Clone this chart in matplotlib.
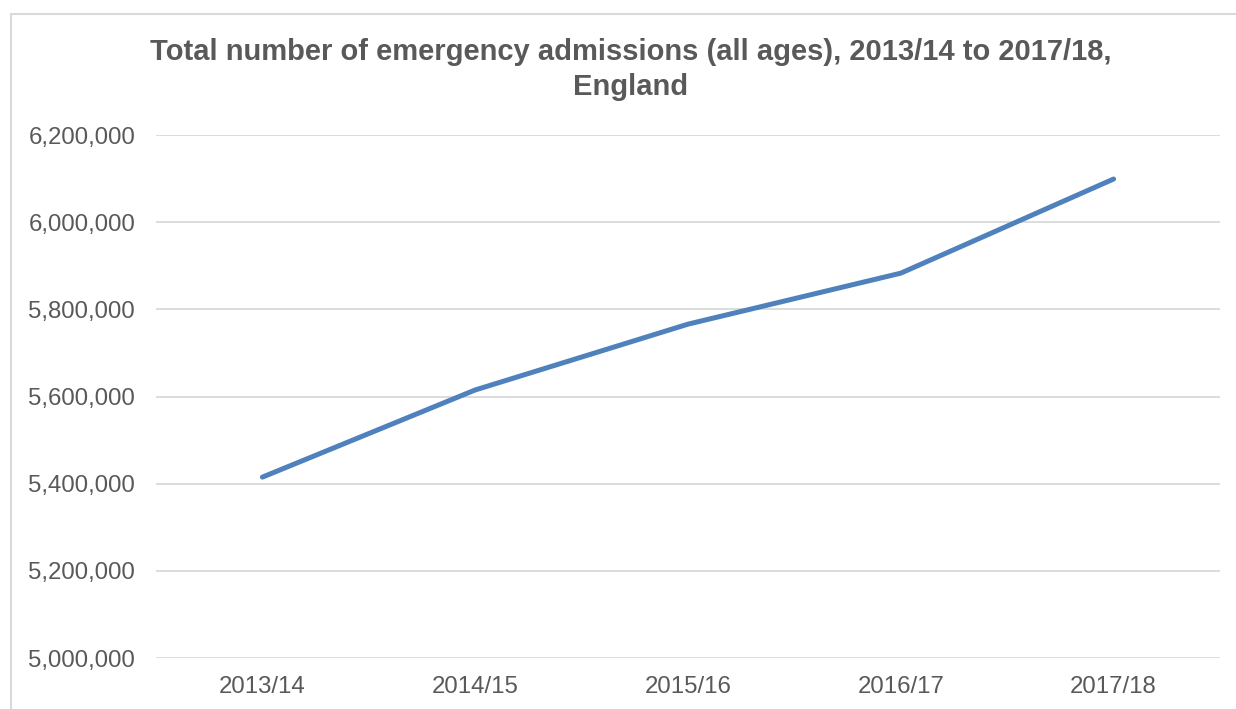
import matplotlib.pyplot as plt
import matplotlib.ticker as mticker
from matplotlib.patches import Rectangle

plt.rcParams['font.family'] = ['Liberation Sans', 'DejaVu Sans']

years = ['2013/14', '2014/15', '2015/16', '2016/17', '2017/18']
admissions = [5415000, 5615000, 5766000, 5883000, 6099000]

fig = plt.figure(figsize=(12.36, 7.09), dpi=100)
ax = fig.add_axes([156/1236, 1-658/709, (1220-156)/1236, (658-135)/709])

# outer chart border (only top and left edges fall inside the image)
fig.patches.append(Rectangle((11/1236, -0.2), 1.2, 1.2-14/709, transform=fig.transFigure,
                             fill=False, edgecolor='#D9D9D9', linewidth=1.5))

ax.plot(range(len(years)), admissions, color='#4F81BD', linewidth=3.6,
        solid_capstyle='round', solid_joinstyle='round', zorder=3)

ax.set_xlim(-0.5, len(years) - 0.5)
ax.set_ylim(5000000, 6200000)
ax.set_yticks(range(5000000, 6200001, 200000))
ax.yaxis.set_major_formatter(mticker.FuncFormatter(lambda v, p: f'{int(v):,}'))
ax.set_xticks(range(len(years)))
ax.set_xticklabels(years)
ax.grid(axis='y', color='#D9D9D9', linewidth=1.3)
ax.set_axisbelow(True)
for s in ax.spines.values():
    s.set_visible(False)
ax.tick_params(length=0, labelsize=17.3, colors='#595959')
ax.tick_params(axis='y', pad=15)
ax.tick_params(axis='x', pad=13)

fig.text(0.510, 1-52/709, 'Total number of emergency admissions (all ages), 2013/14 to 2017/18,',
         ha='center', va='center', fontsize=21, fontweight='bold', color='#595959')
fig.text(0.510, 1-87/709, 'England', ha='center', va='center',
         fontsize=21, fontweight='bold', color='#595959')

fig.savefig('out.png', dpi=100)
